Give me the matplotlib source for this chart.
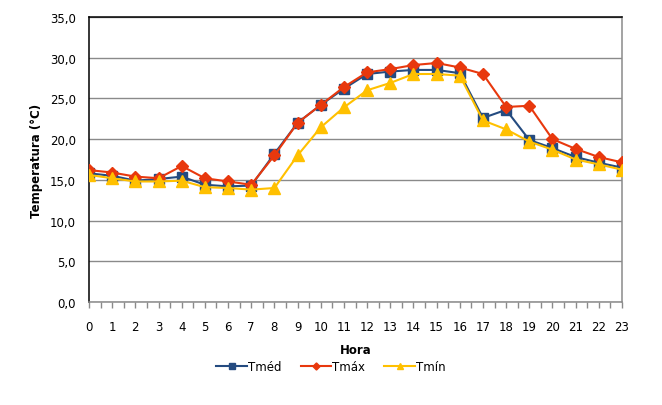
import numpy as np
import matplotlib
matplotlib.use("Agg")
import matplotlib.pyplot as plt
from matplotlib.ticker import MultipleLocator, FuncFormatter

horas = list(range(24))
t_med = [15.8, 15.5, 14.9, 15.1, 15.4, 14.4, 14.2, 14.3, 18.2, 22.0, 24.2, 26.2,
         28.0, 28.3, 28.5, 28.5, 28.1, 22.6, 23.6, 19.9, 18.9, 17.8, 17.1, 16.5]
t_max = [16.2, 15.9, 15.4, 15.2, 16.7, 15.2, 14.8, 14.4, 18.0, 22.0, 24.2, 26.4,
         28.2, 28.6, 29.1, 29.35, 28.8, 28.0, 23.95, 24.1, 20.0, 18.8, 17.8, 17.15]
t_min = [15.6, 15.2, 14.8, 14.8, 14.9, 14.1, 14.0, 13.8, 14.0, 18.0, 21.45, 23.9,
         26.0, 26.9, 28.0, 28.0, 27.8, 22.3, 21.2, 19.7, 18.7, 17.5, 16.9, 16.25]

COR_MED = "#244B80"
COR_MAX = "#E8380D"
COR_MIN = "#FFC000"
CINZA = "#8A8A8A"
FONTE = "DejaVu Sans"
TAM = 8.5

plt.rcParams["font.family"] = FONTE

fig = plt.figure(figsize=(6.62, 4.06), dpi=100)
ax = fig.add_axes([89 / 662, 1 - 303 / 406, (622 - 89) / 662, (303 - 18) / 406])

ax.plot(horas, t_med, color=COR_MED, lw=1.5, marker="s", ms=7, label="Tméd", zorder=3)
ax.plot(horas, t_max, color=COR_MAX, lw=1.5, marker="D", ms=6, label="Tmáx", zorder=4)
ax.plot(horas, t_min, color=COR_MIN, lw=1.5, marker="^", ms=8, label="Tmín", zorder=5)

ax.set_xlim(0, 23)
ax.set_ylim(0, 35)
ax.yaxis.set_major_locator(MultipleLocator(5))
ax.yaxis.set_major_formatter(FuncFormatter(lambda v, p: f"{v:.1f}".replace(".", ",")))
ax.xaxis.set_major_locator(MultipleLocator(1))
ax.xaxis.set_minor_locator(MultipleLocator(0.5))
ax.grid(axis="y", color=CINZA, lw=1.0, zorder=0)

for lado in ("left", "top"):
    ax.spines[lado].set_color("black")
    ax.spines[lado].set_linewidth(1.1)
for lado in ("right", "bottom"):
    ax.spines[lado].set_color(CINZA)
    ax.spines[lado].set_linewidth(1.1)

ax.tick_params(axis="y", length=0, pad=9.5, labelsize=TAM)
ax.tick_params(axis="x", which="both", length=4, color=CINZA, width=1, pad=9, labelsize=TAM)

ax.set_xlabel("Hora", fontsize=TAM, fontweight="bold", labelpad=7)
ax.set_ylabel("Temperatura (°C)", fontsize=TAM, fontweight="bold", labelpad=5)

fig.legend(loc="center", bbox_to_anchor=(331 / 662, 1 - 368 / 406), ncol=3,
           frameon=False, fontsize=TAM, handlelength=2.6, columnspacing=1.6,
           handletextpad=0.1, markerscale=0.6)

fig.savefig("out.png", dpi=100)
